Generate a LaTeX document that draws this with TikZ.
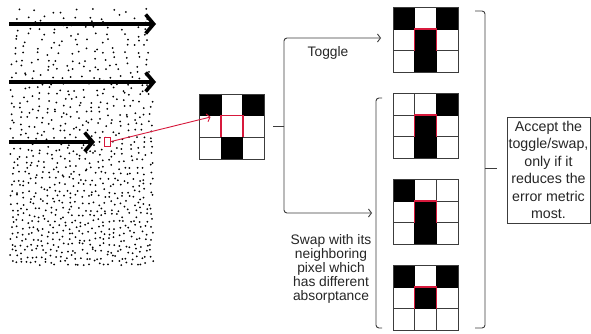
\documentclass[tikz,border=0pt]{standalone}
\usepackage{fontspec}
\setmainfont{Liberation Sans}
\usetikzlibrary{arrows.meta,calc}

\definecolor{pixred}{RGB}{215,25,60}
\definecolor{inkgray}{RGB}{60,60,60}

\tikzset{
  dot/.style={fill=black},
  bigarrow/.style={line width=3.6pt,
    -{Straight Barb[length=8pt,width=19pt]}},
  thinarrow/.style={draw=inkgray, line width=0.9pt,
    -{Straight Barb[length=3pt,width=8pt]}},
  redarrow/.style={draw=pixred, line width=0.9pt,
    -{Straight Barb[length=3pt,width=8pt]}},
  bracel/.style={draw=inkgray, line width=0.9pt},
  gridbox/.style={minimum size=65pt, inner sep=0pt, outer sep=0pt},
  gridline/.style={draw=inkgray, line width=0.8pt},
  cellon/.style={fill=black, draw=black, line width=0.8pt},
  redcell/.style={draw=pixred, line width=1.4pt},
  label/.style={font=\fontsize{13.8}{14}\selectfont, align=center,
    inner sep=0pt, text=black!85},
  notebox/.style={draw=inkgray, line width=0.8pt, align=center,
    minimum width=83pt, minimum height=106pt, inner sep=0pt,
    font=\fontsize{14.2}{17.5}\selectfont, text=black!85},
}

% 3x3 pixel neighbourhood drawn inside node #1; #2 lists the nine cells row by row
\newcommand\pixgrid[2]{%
  \coordinate (nw) at (#1.north west);
  \foreach \k in {1,2} {
    \draw[gridline] ($(nw)+(\k*21.667,0)$) -- ++(0,65);
    \draw[gridline] ($(nw)+(0,\k*21.667)$) -- ++(65,0);
  }
  \foreach \v [count=\i from 0] in {#2} {
    \ifnum\v=1
      \pgfmathtruncatemacro\rr{div(\i,3)}
      \pgfmathtruncatemacro\cc{mod(\i,3)}
      \filldraw[cellon] ($(nw)+(\cc*21.667,\rr*21.667)$) rectangle ++(21.667,21.667);
    \fi
  }
  \draw[redcell] ($(nw)+(21.667,43.333)$) -- ($(nw)+(21.667,21.667)$)
    -- ($(nw)+(43.333,21.667)$) -- ($(nw)+(43.333,43.333)$);
  \draw[gridline] (nw) rectangle ++(65,65);
}

\begin{document}
\begin{tikzpicture}[x=1pt, y=-1pt]
\useasboundingbox (0,0) rectangle (591,334);
\fill[white] (0,0) rectangle (591,334);

% stippled halftone, getting denser towards the bottom
\pgfmathsetseed{4211}
\foreach \r in {0,...,42} {
  \pgfmathsetmacro\yy{8+6*\r+3}
  \pgfmathtruncatemacro\n{round(147*6*(0.0105+0.0235*(\r/42)))}
  \foreach \j in {1,...,\n} {
    \pgfmathsetmacro\px{9+(\j-1+0.15+0.7*rnd)*145/\n}
    \pgfmathsetmacro\py{\yy+(rnd-0.5)*5}
    \fill[dot] (\px,\py) circle (1pt);
  }
}

% scan-line arrows
\coordinate (a1s) at (9,24);  \coordinate (a1e) at (156,24);
\coordinate (a2s) at (9,82);  \coordinate (a2e) at (156,82);
\coordinate (a3s) at (9,142); \coordinate (a3e) at (95,142);
\draw[bigarrow] (a1s) -- (a1e);
\draw[bigarrow] (a2s) -- (a2e);
\draw[bigarrow] (a3s) -- (a3e);

% current pixel
\node[draw=pixred, fill=white, line width=0.8pt, minimum width=6.5pt,
      minimum height=9pt, inner sep=0pt] (px) at (107.5,141.5) {};

% neighbourhoods
\node[gridbox] (g0) at (232,126.5) {};
\node[gridbox] (g1) at (425.5,40) {};
\node[gridbox] (g2) at (425.5,126) {};
\node[gridbox] (g3) at (425.5,212) {};
\node[gridbox] (g4) at (425.5,298) {};
\pixgrid{g0}{1,0,1,0,0,0,0,1,0}
\pixgrid{g1}{1,0,1,0,1,0,0,1,0}
\pixgrid{g2}{0,0,1,0,1,0,0,1,0}
\pixgrid{g3}{1,0,0,0,1,0,0,1,0}
\pixgrid{g4}{1,0,1,0,1,0,0,0,0}

\coordinate (g0in) at ($(g0.north west)+(11,23)$);
\draw[redarrow] (px.east) -- (g0in);

% branching brace
\coordinate (b1) at (284,126);
\coordinate (b2mid) at (376,213);
\draw[bracel] (b1) -- ++(-11,0);
\draw[thinarrow, rounded corners=3pt] (b1) |- ($(g1.west)+(-12,-2)$);
\draw[thinarrow, rounded corners=3pt, shorten >=4pt] (b1) |- (b2mid);

% bracket grouping the swap candidates
\coordinate (b2top) at (376,98);
\coordinate (b2bot) at (376,328);
\draw[bracel, rounded corners=3pt] ([xshift=6pt]b2top) -- (b2top) -- (b2bot) -- ([xshift=6pt]b2bot);

% closing brace over all candidates
\coordinate (b3top) at (485,11);
\coordinate (b3bot) at (485,328);
\coordinate (b3tip) at (485,168);
\draw[bracel, rounded corners=3pt] ([xshift=-10pt]b3top) -- (b3top) -- (b3bot) -- ([xshift=-10pt]b3bot);
\draw[bracel] (b3tip) -- ++(12,0);

% texts
\node[label] (tg) at (328,53) {Toggle};
\node[label, anchor=north] (sw) at (331,234)
  {Swap with its\\neighboring\\pixel which\\has different\\absorptance};
\node[notebox] (acc) at (548.5,170)
  {Accept the\\toggle/swap,\\only if it\\reduces the\\error metric\\most.};
\end{tikzpicture}
\end{document}
